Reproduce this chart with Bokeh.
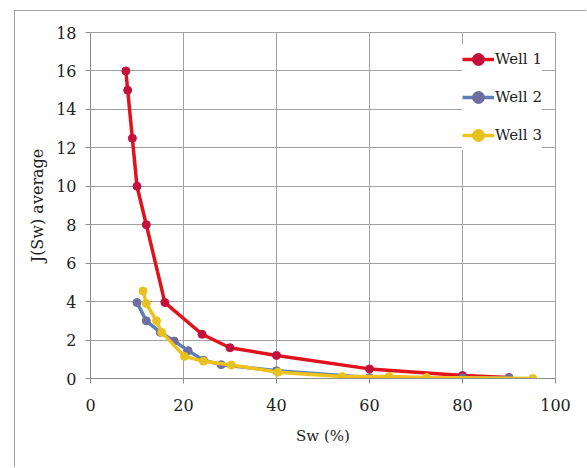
from bokeh.plotting import figure
from bokeh.models import Legend, LegendItem, FixedTicker, Range1d
from bokeh.embed import file_html
from bokeh.resources import INLINE

# Data
well1_sw = [7.6, 8.0, 9.0, 10.0, 12.0, 16.0, 24.0, 30.0, 40.0, 60.0, 80.0, 90.0]
well1_j = [16.0, 15.0, 12.5, 10.0, 8.0, 3.95, 2.3, 1.6, 1.2, 0.5, 0.15, 0.05]

well2_sw = [10.0, 12.0, 15.0, 18.0, 21.0, 24.3, 28.1, 40.0, 60.0, 80.0, 90.0]
well2_j = [3.95, 3.0, 2.4, 1.95, 1.45, 0.95, 0.72, 0.4, 0.05, 0.04, 0.03]

well3_sw = [11.3, 12.0, 14.2, 15.3, 20.2, 24.3, 30.3, 40.3, 54.1, 64.2, 72.3, 95.1]
well3_j = [4.55, 3.9, 3.0, 2.4, 1.15, 0.9, 0.7, 0.33, 0.1, 0.1, 0.05, 0.0]

x_ticks = [0, 20, 40, 60, 80, 100]
y_ticks = [0, 2, 4, 6, 8, 10, 12, 14, 16, 18]

SERIF = "DejaVu Serif"

p = figure(width=572, height=457, output_backend="svg", toolbar_location=None,
           x_range=Range1d(0, 100), y_range=Range1d(0, 18),
           min_border_left=75, min_border_right=32, min_border_top=21, min_border_bottom=90,
           background_fill_color="white", border_fill_color="white",
           styles={"border-left": "1px solid #a0a0a0", "border-top": "1px solid #a0a0a0",
                   "margin-left": "14px", "margin-top": "10px"})

p.outline_line_color = "#a0a0a0"
p.outline_line_width = 1

for ax in (p.xaxis[0], p.yaxis[0]):
    ax.axis_line_color = "#8c8c8c"
    ax.major_tick_line_color = "#8c8c8c"
    ax.major_tick_out = 5
    ax.major_tick_in = 0
    ax.minor_tick_line_color = None
    ax.major_label_text_font = SERIF
    ax.major_label_text_font_size = "16px"
    ax.major_label_text_color = "#222222"
    ax.axis_label_text_font = SERIF
    ax.axis_label_text_font_style = "normal"
    ax.axis_label_text_color = "#222222"

p.xaxis.ticker = FixedTicker(ticks=x_ticks)
p.yaxis.ticker = FixedTicker(ticks=y_ticks)
p.xaxis.axis_label = "Sw (%)"
p.yaxis.axis_label = "J(Sw) average"
p.xaxis.axis_label_text_font_size = "15px"
p.yaxis.axis_label_text_font_size = "16px"
p.xaxis.major_label_standoff = 15
p.yaxis.major_label_standoff = 9
p.xaxis.axis_label_standoff = 13
p.yaxis.axis_label_standoff = 6

p.xgrid.ticker = FixedTicker(ticks=x_ticks)
p.ygrid.ticker = FixedTicker(ticks=y_ticks)
for g in (p.xgrid[0], p.ygrid[0]):
    g.grid_line_color = "#a0a0a0"
    g.grid_line_width = 1

series = [
    ("Well 1", well1_sw, well1_j, "#e0121c", "#c4103c"),
    ("Well 2", well2_sw, well2_j, "#5b80b8", "#6e6ea0"),
    ("Well 3", well3_sw, well3_j, "#f2c21c", "#e6c21e"),
]
items = []
for name, xs, ys, lc, mc in series:
    l = p.line(xs, ys, line_color=lc, line_width=3.5)
    c = p.scatter(xs, ys, size=8, fill_color=mc, line_color=mc)
    items.append(LegendItem(label=name, renderers=[l, c]))

legend = Legend(items=items, location=(372, 228),
                label_text_font=SERIF, label_text_font_size="15px",
                label_text_color="#222222",
                glyph_width=32, glyph_height=30, spacing=8, label_standoff=1,
                padding=6, margin=0,
                border_line_color=None, background_fill_color="white",
                background_fill_alpha=1.0)
p.add_layout(legend)

open("out.html", "w").write(file_html(p, INLINE))
